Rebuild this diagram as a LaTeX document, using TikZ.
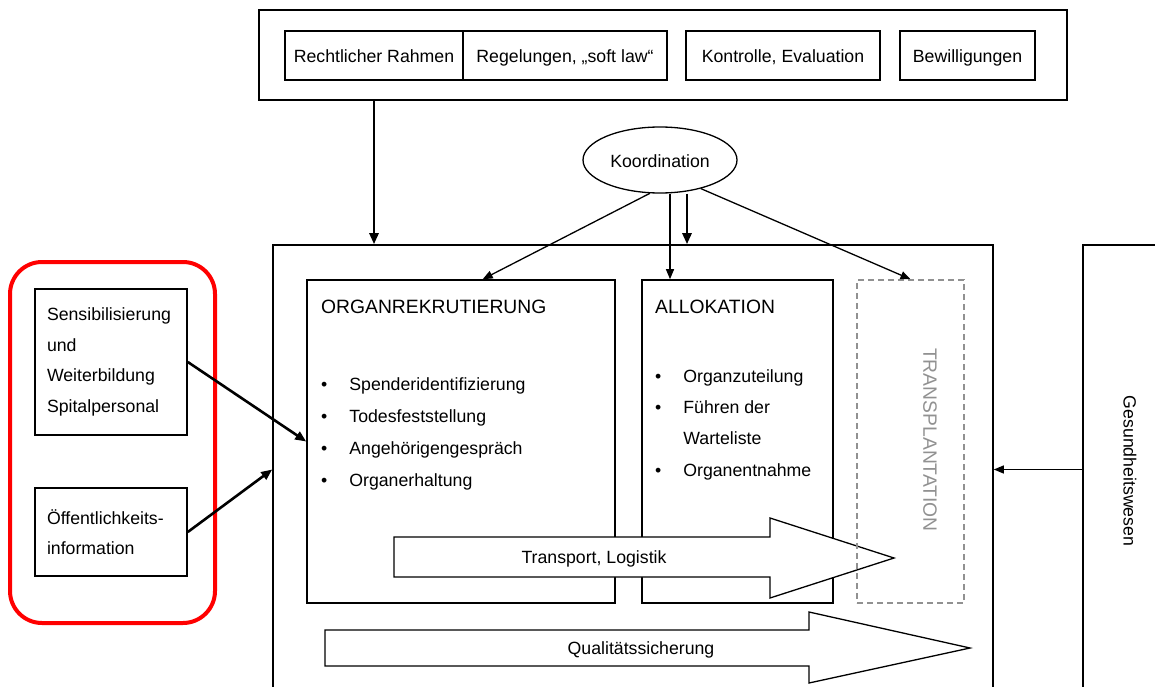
\documentclass[tikz,border=0pt]{standalone}
\usepackage{fontspec}
\setmainfont{Liberation Sans}
\usetikzlibrary{shapes.geometric,arrows.meta,calc}
\definecolor{grau}{RGB}{145,145,145}
\definecolor{rot}{RGB}{255,0,0}
\begin{document}
\begin{tikzpicture}[x=1pt,y=-1pt,
    box/.style={draw,line width=1.6pt,inner sep=0pt},
    txt/.style={font=\fontsize{17.7}{30.5}\selectfont,inner sep=0pt},
    lbl/.style={txt,text height=16.5pt,text depth=2pt},
    titel/.style={font=\fontsize{19.3}{23}\selectfont,inner sep=0pt},
    pfeil/.style={line width=1.3pt,-{Triangle[length=10pt,width=8pt]}},
    dickpfeil/.style={line width=2.6pt,-{Triangle[length=11pt,width=9pt]}},
    band/.style={line width=1.3pt,line join=miter,fill=white}]
\useasboundingbox (0,0) rectangle (1155,687);
\clip (0,0) rectangle (1155,687);

\node[box,line width=2pt,minimum width=808pt,minimum height=90pt] (rahmen) at (663,55) {};
\node[box,lbl,minimum width=178pt,minimum height=49pt] (recht) at (374,55.5) {Rechtlicher Rahmen};
\node[box,lbl,minimum width=204pt,minimum height=49pt] (regel) at (565,55.5) {Regelungen, „soft law“};
\node[box,lbl,minimum width=194pt,minimum height=49pt] (kontr) at (783,55.5) {Kontrolle, Evaluation};
\node[box,lbl,minimum width=135pt,minimum height=49pt] (bewil) at (967.5,55.5) {Bewilligungen};

\node[draw,ellipse,line width=1.3pt,lbl,minimum width=154pt,minimum height=66pt] (koord) at (660,160) {Koordination};

\node[box,minimum width=720pt,minimum height=449pt] (haupt) at (633,469.5) {};
\node[box,minimum width=150pt,minimum height=449pt] (gesund) at (1158,469.5) {};
\node[txt,rotate=-90] (gesundtext) at (1130,471) {Gesundheitswesen};

\node[box,minimum width=308pt,minimum height=323pt] (organ) at (461,441.5) {};
\node[box,minimum width=191pt,minimum height=323pt] (allok) at (737.5,441.5) {};

\node[titel,anchor=west] (organtitel) at (321,307) {ORGANREKRUTIERUNG};
\node[txt,anchor=west] (organliste) at (321,432) {\fontsize{17.7}{32}\selectfont
  \begin{tabular}{@{}l@{\hspace{22pt}}l@{}}
  \textbullet & Spenderidentifizierung\\
  \textbullet & Todesfeststellung\\
  \textbullet & Angehörigengespräch\\
  \textbullet & Organerhaltung
  \end{tabular}};
\node[titel,anchor=west] (alloktitel) at (655,307) {ALLOKATION};
\node[txt,anchor=west] (allokliste) at (655,423) {\fontsize{17.7}{31.3}\selectfont
  \begin{tabular}{@{}l@{\hspace{22pt}}l@{}}
  \textbullet & Organzuteilung\\
  \textbullet & Führen der\\
   & Warteliste\\
  \textbullet & Organentnahme
  \end{tabular}};

\draw[band] (394,537) -- (770,537) -- (770,518) -- (894,558) -- (770,598) -- (770,577) -- (394,577) -- cycle;
\node[lbl] (transport) at (594,556) {Transport, Logistik};
\draw[band] (325,630) -- (809,630) -- (809,612) -- (970,648) -- (809,683) -- (809,666) -- (325,666) -- cycle;
\node[lbl] (qualitaet) at (641,647) {Qualitätssicherung};

\node[draw=grau,dash pattern=on 6pt off 4pt,line width=1.5pt,minimum width=107pt,minimum height=323pt] (trans) at (910.5,441.5) {};
\node[titel,text=grau,rotate=-90] (transtext) at (930,440) {TRANSPLANTATION};

\node[draw=rot,line width=4pt,rounded corners=32pt,minimum width=205pt,minimum height=361pt] (gruppe) at (112.5,442.5) {};
\node[box,txt,align=left,text width=128pt,minimum width=152pt,minimum height=146pt] (sens) at (111,362) {Sensibilisierung\\und\\Weiterbildung\\Spitalpersonal};
\node[box,txt,align=left,text width=128pt,minimum width=152pt,minimum height=88pt] (oeff) at (111,532) {Öffentlichkeits-\\information};

\draw[dickpfeil] (recht.south |- rahmen.south) -- (recht.south |- haupt.north);
\draw[pfeil] (koord.253) -- ($(organ.north west)!0.57!(organ.north east)$);
\draw[pfeil] ([xshift=10pt]koord.south) -- ([xshift=10pt]koord.south |- allok.north);
\draw[dickpfeil] ([xshift=27pt]koord.south) -- ([xshift=27pt]koord.south |- haupt.north);
\draw[pfeil] (koord.325) -- (trans.north);
\draw[dickpfeil] (sens.east) -- (organ.west);
\draw[dickpfeil] (oeff.east) -- (haupt.west);
\draw[pfeil] (gesund.west) -- (haupt.east);
\end{tikzpicture}
\end{document}
